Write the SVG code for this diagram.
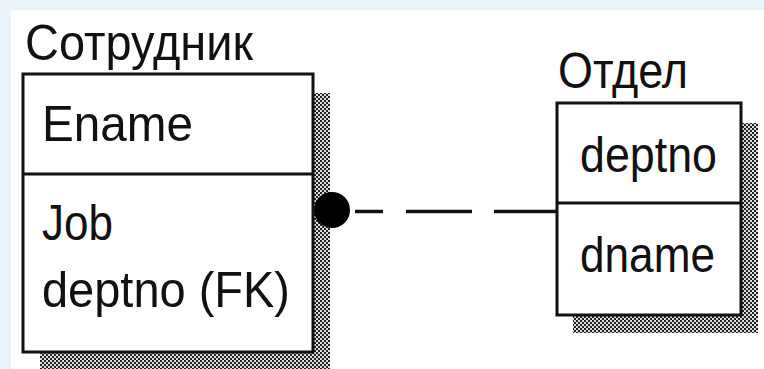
<svg xmlns="http://www.w3.org/2000/svg" width="764" height="369" viewBox="0 0 764 369">
<style>
.t{font-family:"Liberation Sans","DejaVu Sans Condensed",Arial,sans-serif;font-size:50px;fill:#111}
.box{fill:#fff;stroke:#111;stroke-width:3}
.div{stroke:#111;stroke-width:3}
.sh{fill:url(#dots)}
.conn{stroke:#111;stroke-width:3.5;fill:none}
</style>
<defs>
<pattern id="dots" width="4" height="4" patternUnits="userSpaceOnUse">
<rect width="4" height="4" fill="#ddd"/>
<rect width="2" height="2" fill="#222"/>
<rect x="2" y="2" width="2" height="2" fill="#222"/>
</pattern>
</defs>
<rect width="764" height="369" fill="#e9f5fb"/>
<rect x="11" y="10" width="753" height="359" fill="#fff"/>
<g id="sotrudnik">
<rect class="sh" x="313" y="93" width="17" height="276"/>
<rect class="sh" x="40" y="352" width="290" height="17"/>
<rect class="box" x="23" y="74" width="290" height="278"/>
<line class="div" x1="23" y1="174" x2="313" y2="174"/>
<text class="t" x="25" y="60" textLength="228" lengthAdjust="spacingAndGlyphs">Сотрудник</text>
<text class="t" x="42" y="141" textLength="151" lengthAdjust="spacingAndGlyphs">Ename</text>
<text class="t" x="42" y="240" textLength="71" lengthAdjust="spacingAndGlyphs">Job</text>
<text class="t" x="42" y="307" textLength="248" lengthAdjust="spacingAndGlyphs">deptno (FK)</text>
</g>
<g id="otdel">
<rect class="sh" x="741" y="123" width="17" height="210"/>
<rect class="sh" x="573" y="315" width="185" height="18"/>
<rect class="box" x="557" y="103" width="184" height="212"/>
<line class="div" x1="557" y1="203" x2="741" y2="203"/>
<text class="t" x="558" y="88" textLength="130" lengthAdjust="spacingAndGlyphs">Отдел</text>
<text class="t" x="580" y="172" textLength="137" lengthAdjust="spacingAndGlyphs">deptno</text>
<text class="t" x="580" y="272" textLength="135" lengthAdjust="spacingAndGlyphs">dname</text>
</g>
<g id="connectors">
<path class="conn" d="M355 211.5H383M406 211.5H472M494 211.5H557"/>
<circle cx="332" cy="210" r="18" fill="#000"/>
</g>
</svg>
